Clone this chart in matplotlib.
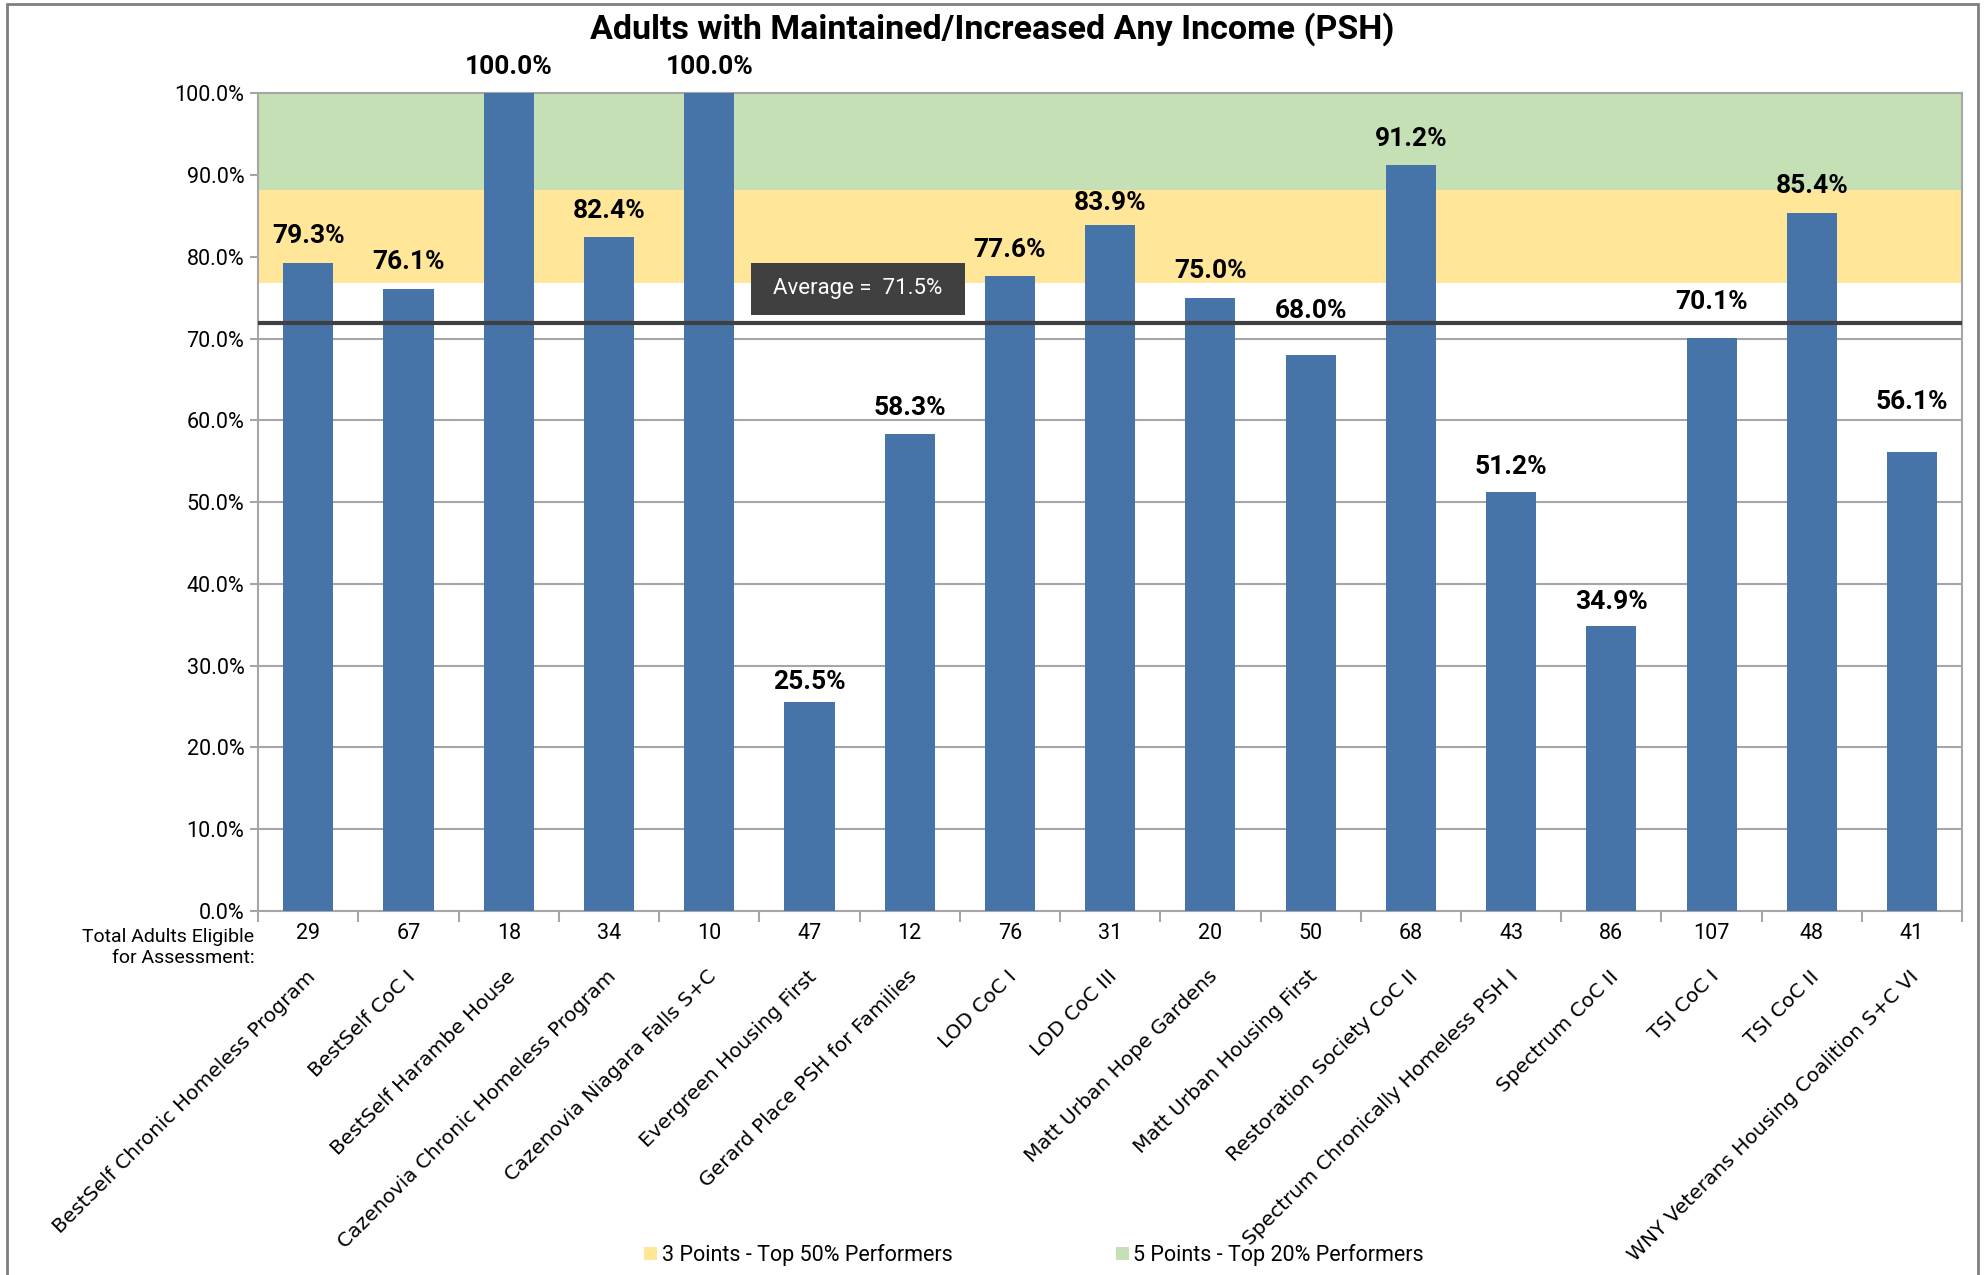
import matplotlib
matplotlib.use("Agg")
import matplotlib.pyplot as plt
from matplotlib import font_manager
from matplotlib.patches import Rectangle, Patch
import numpy as np

# ---------------- data ----------------
categories = [
    "BestSelf Chronic Homeless Program",
    "BestSelf CoC I",
    "BestSelf Harambe House",
    "Cazenovia Chronic Homeless Program",
    "Cazenovia Niagara Falls S+C",
    "Evergreen Housing First",
    "Gerard Place PSH for Families",
    "LOD CoC I",
    "LOD CoC III",
    "Matt Urban Hope Gardens",
    "Matt Urban Housing First",
    "Restoration Society CoC II",
    "Spectrum Chronically Homeless PSH I",
    "Spectrum CoC II",
    "TSI CoC I",
    "TSI CoC II",
    "WNY Veterans Housing Coalition S+C VI",
]
values = [79.3, 76.1, 100.0, 82.4, 100.0, 25.5, 58.3, 77.6, 83.9, 75.0,
          68.0, 91.2, 51.2, 34.9, 70.1, 85.4, 56.1]
eligible_counts = [29, 67, 18, 34, 10, 47, 12, 76, 31, 20, 50, 68, 43, 86, 107, 48, 41]
average_label = 71.5
average_line = 71.9
top50_band = (76.75, 88.2)
top20_band = (88.2, 100.0)
y_ticks = [0, 10, 20, 30, 40, 50, 60, 70, 80, 90, 100]
legend_labels = ["3 Points - Top 50% Performers", "5 Points - Top 20% Performers"]
title = "Adults with Maintained/Increased Any Income (PSH)"
count_caption = "Total Adults Eligible\nfor Assessment:"

# label offsets (points above bar top) — styling
label_offsets = [19, 19, 19, 19, 19, 15, 19, 19, 16, 19, 32, 19, 18, 17, 26, 19, 36]

# ---------------- styles ----------------
avail = {f.name for f in font_manager.fontManager.ttflist}
def pick(*names):
    for n in names:
        if n in avail:
            return n
    return "DejaVu Sans"

F_MAIN = pick("Roboto", "Liberation Sans", "DejaVu Sans")
F_CAT = pick("DejaVu Sans")

BAR = "#4673A8"
YELLOW = "#FFE699"
GREEN = "#C5E0B4"
DARK = "#404040"
GRID = "#A6A6A6"

fig = plt.figure(figsize=(19.86, 12.75), dpi=100)
ax = fig.add_axes([0.130, 0.2855, 0.858, 0.6413])

x = np.arange(len(categories))

ax.set_ylim(0, 100)
ax.set_xlim(-0.5, len(categories) - 0.5)

# grid
ax.set_yticks(y_ticks)
ax.yaxis.grid(True, color=GRID, linewidth=1.5, zorder=0)
ax.set_axisbelow(True)

# bands
ax.axhspan(*top50_band, color=YELLOW, zorder=1, linewidth=0)
ax.axhspan(*top20_band, color=GREEN, zorder=1, linewidth=0)

# bars
ax.bar(x, values, width=0.5, color=BAR, zorder=3)

# average line
ax.axhline(average_line, color=DARK, linewidth=3, zorder=4)

# data labels
for xi, v, off in zip(x, values, label_offsets):
    ax.annotate(f"{v:.1f}%", xy=(xi, v), xytext=(0, off), textcoords="offset points",
                ha="center", va="center", fontsize=19, fontweight="bold",
                family=F_MAIN, color="black", zorder=6)

# average box
ax.add_patch(Rectangle((0.2892, 0.729), 0.1257, 0.0635, transform=ax.transAxes,
                       facecolor=DARK, edgecolor="none", zorder=5))
ax.text(0.2892 + 0.1257 / 2, 0.729 + 0.0635 / 2, f"Average =  {average_label:.1f}%",
        transform=ax.transAxes, ha="center", va="center", color="white",
        fontsize=16, family=F_MAIN, zorder=6)

# y axis
ax.set_yticklabels([f"{t:.1f}%" for t in y_ticks], fontsize=15.5, family=F_MAIN)
ax.tick_params(axis="y", length=6, width=1.5, color=GRID, pad=4)

# x axis: counts as tick labels, boundaries as minor ticks
ax.set_xticks(x)
ax.set_xticklabels([str(c) for c in eligible_counts], fontsize=15.5, family=F_MAIN)
ax.tick_params(axis="x", which="major", length=0, pad=9)
ax.set_xticks(np.arange(-0.5, len(categories)), minor=True)
ax.tick_params(axis="x", which="minor", length=8, width=1.5, color=GRID)

for s in ax.spines.values():
    s.set_color(GRID)
    s.set_linewidth(1.5)

# category labels
for xi, name in zip(x, categories):
    ax.annotate(name, xy=(xi, 0), xytext=(3, -45), textcoords="offset points",
                rotation=45, rotation_mode="anchor", ha="right", va="center",
                fontsize=14.5, family=F_CAT, color="black", annotation_clip=False)

# caption for counts
fig.text(0.128, 0.2718, count_caption, ha="right", va="top", fontsize=14.0,
         family=F_MAIN, linespacing=1.15)

# title
fig.text(0.4994, 0.977, title, ha="center", va="center", fontsize=24.5,
         fontweight="bold", family=F_MAIN)

# legend
handles = [Patch(facecolor=YELLOW, edgecolor="none"), Patch(facecolor=GREEN, edgecolor="none")]
fig.legend(handles, legend_labels, loc="center", bbox_to_anchor=(0.5207, 0.0155), ncol=2,
           frameon=False, handlelength=0.6, handleheight=0.6, handletextpad=0.2,
           columnspacing=7.6, prop={"family": F_MAIN, "size": 15.5})

# outer border
fig.add_artist(Rectangle((0.0035, -0.01), 0.9925, 1.007, transform=fig.transFigure,
                         facecolor="none", edgecolor="#7F7F7F", linewidth=2))

fig.savefig("out.png", dpi=100)
